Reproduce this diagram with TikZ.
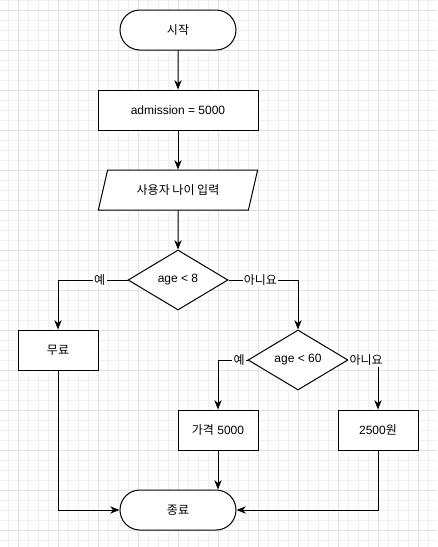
\documentclass[tikz,border=0pt]{standalone}
\usepackage{fontspec}
\setmainfont{Liberation Sans}
\newfontfamily\kr{Noto Sans CJK KR}
\usetikzlibrary{
    arrows.meta,
    shapes.geometric,
    shapes.misc
}
\definecolor{gridminor}{HTML}{F0F0F0}
\definecolor{gridmajor}{HTML}{E0E0E0}
\tikzset{
  every node/.style={
    font=\fontsize{9}{11}\selectfont,
    inner sep=1.5pt
  },
  terminal/.style={draw,rounded rectangle,minimum width=90pt,minimum height=30pt},
  process/.style={draw,rectangle,minimum width=#1,minimum height=30pt},
  io/.style={draw,trapezium,trapezium left angle=63.4,trapezium right angle=116.6,
    trapezium stretches=true,minimum width=120pt,minimum height=30pt,inner sep=0pt},
  decision/.style={draw,diamond,minimum width=75pt,minimum height=45pt,inner sep=0pt},
  flow/.style={-{Stealth[length=7pt,width=5.5pt,inset=2.2pt]},line width=0.75pt},
  branch/.style={fill=white,inner sep=1pt}
}

\begin{document}
\begin{tikzpicture}[x=0.75pt,y=-0.75pt,line width=0.75pt]
    \useasboundingbox (0,0) rectangle (437,547);
    % 격자
    \foreach \x in {8,18,...,437} \draw[gridminor,line width=0.5pt] (\x,0) -- (\x,547);
    \foreach \y in {0,10,...,547} \draw[gridminor,line width=0.5pt] (0,\y) -- (437,\y);
    \foreach \x in {18,58,...,437} \draw[gridmajor,line width=0.5pt] (\x,0) -- (\x,547);
    \foreach \y in {10,50,...,547} \draw[gridmajor,line width=0.5pt] (0,\y) -- (437,\y);

    % 노드
    \node[terminal,fill=white] (start) at (178,30) {\kr 시작};
    \node[process=120pt,fill=white] (init) at (178,110) {admission = 5000};
    \node[io,fill=white] (input) at (178,190) {\kr 사용자 나이 입력};
    \node[decision,fill=white] (young) at (178,280) {age < 8};
    \node[process=60pt,fill=white] (free) at (58,350) {\kr 무료};
    \node[decision,fill=white] (senior) at (298,360) {age < 60};
    \node[process=60pt,fill=white] (full) at (218,430) {{\kr 가격} 5000};
    \node[process=60pt,fill=white] (half) at (378,430) {2500{\kr 원}};
    \node[terminal,fill=white] (stop) at (178,510) {\kr 종료};

    % 화살표
    \draw[flow] (start) -- (init);
    \draw[flow] (init) -- (input);
    \draw[flow] (input) -- (young);
    \draw[flow] (young.west) -| node[branch,pos=0.2] {\kr 예} (free.north);
    \draw[flow] (young.east) -| node[branch,pos=0.23] {\kr 아니요} (senior.north);
    \draw[flow] (senior.west) -| node[branch,pos=0.14] {\kr 예} (full.north);
    \draw[flow] (senior.east) -| node[branch,pos=0.3] {\kr 아니요} (half.north);
    \draw[flow] (free.south) |- (stop.west);
    \draw[flow] (full.south) -- (full.south |- stop.north);
    \draw[flow] (half.south) |- (stop.east);
\end{tikzpicture}
\end{document}
